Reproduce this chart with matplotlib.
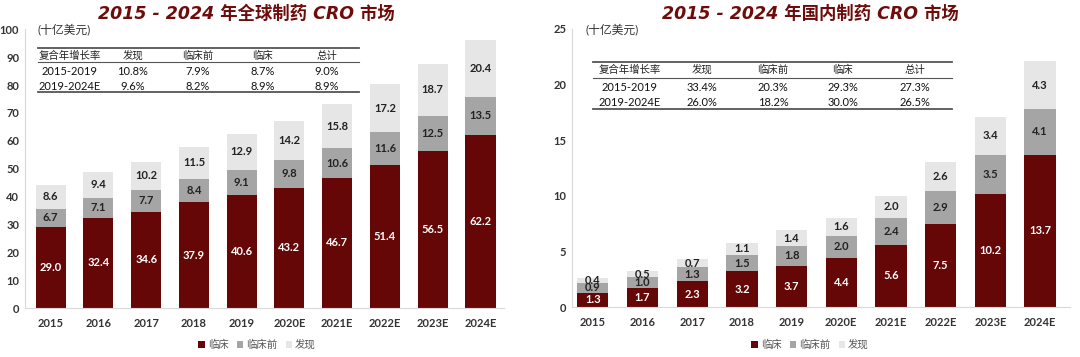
import numpy as np
import matplotlib
matplotlib.use("Agg")
import matplotlib.pyplot as plt
from matplotlib.patches import Patch

plt.rcParams['font.family'] = ['Lato', 'Noto Sans CJK SC', 'DejaVu Sans']

# data
years = ["2015", "2016", "2017", "2018", "2019", "2020E", "2021E", "2022E", "2023E", "2024E"]
series_names = ["临床", "临床前", "发现"]

global_clinical = [29.0, 32.4, 34.6, 37.9, 40.6, 43.2, 46.7, 51.4, 56.5, 62.2]
global_preclinical = [6.7, 7.1, 7.7, 8.4, 9.1, 9.8, 10.6, 11.6, 12.5, 13.5]
global_discovery = [8.6, 9.4, 10.2, 11.5, 12.9, 14.2, 15.8, 17.2, 18.7, 20.4]

china_clinical = [1.3, 1.7, 2.3, 3.2, 3.7, 4.4, 5.6, 7.5, 10.2, 13.7]
china_preclinical = [0.9, 1.0, 1.3, 1.5, 1.8, 2.0, 2.4, 2.9, 3.5, 4.1]
china_discovery = [0.4, 0.5, 0.7, 1.1, 1.4, 1.6, 2.0, 2.6, 3.4, 4.3]

table_header = ["复合年增长率", "发现", "临床前", "临床", "总计"]
global_cagr = [["2015-2019", "10.8%", "7.9%", "8.7%", "9.0%"],
               ["2019-2024E", "9.6%", "8.2%", "8.9%", "8.9%"]]
china_cagr = [["2015-2019", "33.4%", "20.3%", "29.3%", "27.3%"],
              ["2019-2024E", "26.0%", "18.2%", "30.0%", "26.5%"]]

titles = ["2015 - 2024 年全球制药 CRO 市场", "2015 - 2024 年国内制药 CRO 市场"]
unit = "(十亿美元)"

colors = ["#650707", "#a5a5a5", "#e6e6e6"]
label_colors = ["white", "#222222", "#222222"]
title_color = "#6e0b0b"

fig = plt.figure(figsize=(10.8, 3.57), dpi=100)
ax1 = fig.add_axes([0.023, 0.137, 0.444, 0.781])
ax2 = fig.add_axes([0.5296, 0.140, 0.461, 0.779])


def draw_panel(ax, stacks, ymax, ystep, xlim, table, tpos):
    x = np.arange(len(years))
    bottom = np.zeros(len(years))
    for vals, c, lc in zip(stacks, colors, label_colors):
        vals = np.array(vals)
        ax.bar(x, vals, 0.63, bottom=bottom, color=c, edgecolor="none", zorder=2)
        for xi, b, v in zip(x, bottom, vals):
            ax.text(xi, b + v / 2, f"{v:.1f}", ha="center", va="center",
                    fontsize=8, color=lc, fontweight="bold", zorder=3)
        bottom = bottom + vals
    ax.set_ylim(0, ymax)
    ax.set_yticks(np.arange(0, ymax + 0.1, ystep))
    ax.set_xlim(*xlim)
    ax.set_xticks(x)
    ax.set_xticklabels(years)
    for s in ["top", "right"]:
        ax.spines[s].set_visible(False)
    for s in ["left", "bottom"]:
        ax.spines[s].set_color("#d9d9d9")
        ax.spines[s].set_linewidth(0.8)
    ax.tick_params(axis="x", length=0, labelsize=8, colors="#333333", pad=7)
    ax.tick_params(axis="y", length=0, labelsize=8, colors="#333333", pad=4)
    for lab in ax.get_xticklabels() + ax.get_yticklabels():
        lab.set_fontweight("bold")
    ax.text(0.027, 1.0, unit, transform=ax.transAxes, fontsize=8.5,
            color="#333333", ha="left", va="center")

    # CAGR table
    x0, x1, ytop, yhead, ysep, yr1, yr2, ybot, cols = tpos
    for yl, lw in [(ytop, 1.3), (ysep, 0.8), (ybot, 1.3)]:
        ax.plot([x0, x1], [yl, yl], transform=ax.transAxes, color="#555555",
                lw=lw, clip_on=False, zorder=4)
    for cx, h in zip(cols, table_header):
        ax.text(cx, yhead, h, transform=ax.transAxes, ha="center", va="center",
                fontsize=7.5, color="#222222")
    for yy, row in zip([yr1, yr2], table):
        for cx, v in zip(cols, row):
            ax.text(cx, yy, v, transform=ax.transAxes, ha="center", va="center",
                    fontsize=8, color="#111111")


draw_panel(ax1, [global_clinical, global_preclinical, global_discovery], 100, 10,
           (-0.54, 9.5), global_cagr,
           (0.027, 0.696, 0.932, 0.905, 0.882, 0.849, 0.796, 0.774,
            [0.094, 0.225, 0.36, 0.496, 0.629]))
draw_panel(ax2, [china_clinical, china_preclinical, china_discovery], 25, 5,
           (-0.42, 9.6), china_cagr,
           (0.042, 0.763, 0.881, 0.853, 0.822, 0.791, 0.737, 0.712,
            [0.116, 0.261, 0.404, 0.544, 0.689]))

for xc, t in zip([0.228, 0.75], titles):
    fig.text(xc, 0.962, t, ha="center", va="center", fontsize=12.5,
             fontweight="bold", style="italic", color=title_color,
             family=['DejaVu Sans', 'Noto Sans CJK SC'])

handles = [Patch(facecolor=c, edgecolor="none") for c in colors]
for xc in [0.238, 0.75]:
    fig.legend(handles, series_names, loc="center", bbox_to_anchor=(xc, 0.034),
               ncol=3, frameon=False, fontsize=7.5, handlelength=0.6,
               handleheight=0.6, handletextpad=0.3, columnspacing=0.8,
               labelcolor="#555555")

fig.savefig("out.png", dpi=100, facecolor="white")
